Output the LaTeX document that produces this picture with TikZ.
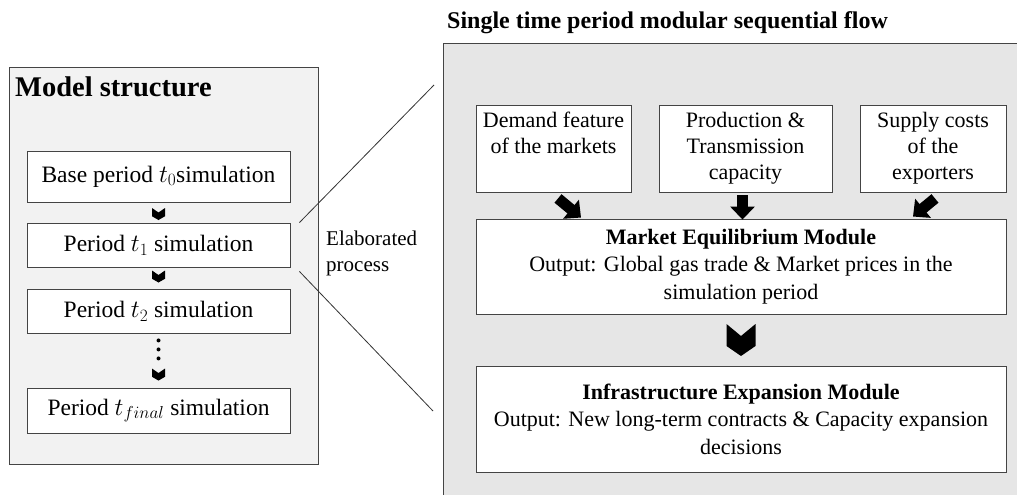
\documentclass[tikz,border=0pt]{standalone}
\usepackage{fontspec}
\setmainfont{Liberation Serif}
\usetikzlibrary{calc,arrows.meta}
\definecolor{panelA}{HTML}{F2F2F2}
\definecolor{panelB}{HTML}{E6E6E6}
\definecolor{edge}{HTML}{444444}
\begin{document}
\begin{tikzpicture}[x=1pt,y=-1pt,
  panel/.style={draw=edge, line width=1pt, inner sep=0},
  simbox/.style={draw=edge, fill=white, line width=0.9pt, minimum width=263pt,
    inner sep=0, font=\fontsize{23.5}{28}\selectfont},
  inbox/.style={draw=edge, fill=white, line width=0.9pt, inner sep=0, align=center,
    minimum height=87pt, font=\fontsize{22}{26}\selectfont},
  modbox/.style={draw=edge, fill=white, line width=0.9pt, inner sep=0, align=center,
    minimum width=530pt, font=\fontsize{22}{27.5}\selectfont},
  zoomline/.style={draw=black!80, line width=0.8pt},
  blockarrow/.style={draw=black, line width=11pt, -{Triangle[width=24pt,length=13pt]}},
  chev/.pic={\fill[black] (-1,-1) -- (0,-0.25) -- (1,-1) -- (1,0.375) -- (0,1) -- (-1,0.375) -- cycle;}
]
\useasboundingbox (0,0) rectangle (1017,495);
\clip (0,0) rectangle (1017,495);

% the two panels
\node[panel, fill=panelA, minimum width=309pt, minimum height=396pt] (leftpanel) at (163.5,266) {};
\node[panel, fill=panelB, minimum width=600pt, minimum height=480pt] (rightpanel) at (743,284) {};

% titles
\node[anchor=base west, inner sep=0, font=\fontsize{28.5}{34}\selectfont\bfseries] (ltitle) at (15,96) {Model structure};
\node[anchor=base west, inner sep=0, font=\fontsize{24}{29}\selectfont\bfseries] (rtitle) at (447,29) {Single time period modular sequential flow};

% simulation periods
\node[simbox, minimum height=51pt] (b1) at (158.5,176.5) {Base period $t_0$simulation};
\node[simbox, minimum height=44pt] (b2) at (158.5,245) {Period $t_1$ simulation};
\node[simbox, minimum height=44pt] (b3) at (158.5,311) {Period $t_2$ simulation};
\node[simbox, minimum height=45pt] (b4) at (158.5,410.5) {Period $t_{final}$ simulation};

\pic[xscale=6.5,yscale=6] at ($(b1.south)!0.5!(b2.north)+(0,1.5)$) {chev};
\pic[xscale=6.5,yscale=6] at ($(b2.south)!0.5!(b3.north)+(0,-1.5)$) {chev};
\foreach \d in {7,16,25} \fill ($(b3.south)+(0,\d)$) circle[radius=2pt];
\pic[xscale=6.5,yscale=6] at ($(b4.north)+(0,-13)$) {chev};

% zoom-in lines
\coordinate (zt) at (434,85);
\coordinate (zb) at (433,411);
\draw[zoomline] ($(b2.north east)+(9,0)$) -- (zt);
\draw[zoomline] ($(b2.south east)+(9,4)$) -- (zb);
\node[anchor=north west, inner sep=0, align=left, font=\fontsize{21}{25.5}\selectfont] (elab) at (326,231) {Elaborated\\process};

% inputs
\node[inbox, minimum width=155pt] (demand) at (553.5,148.5) {Demand feature\\of the markets\\\vphantom{p}};
\node[inbox, minimum width=173pt] (prod) at (745.5,148.5) {Production \&\\Transmission\\capacity};
\node[inbox, minimum width=146pt] (supply) at (933,148.5) {Supply costs\\of the\\exporters};

% modules
\node[modbox, minimum height=95pt] (market) at (741,266.5) {\textbf{Market Equilibrium Module}\\Output: Global gas trade \& Market prices in the\\simulation period};
\node[modbox, minimum height=106pt] (infra) at (741,419) {\textbf{Infrastructure Expansion Module}\\Output: New long-term contracts \& Capacity expansion\\decisions};

% flows
\draw[blockarrow] ($(demand.south)+(4.5,6)$) -- ($(demand.south |- market.north)+(27.5,-1)$);
\draw[blockarrow] ($(prod.south)+(-3,3)$) -- ($(prod.south |- market.north)+(-3,1)$);
\draw[blockarrow] ($(supply.south)+(2,6)$) -- ($(supply.south |- market.north)+(-20,-2)$);
\pic[xscale=14.5,yscale=16] at ($(market.south)!0.5!(infra.north)$) {chev};
\end{tikzpicture}
\end{document}
